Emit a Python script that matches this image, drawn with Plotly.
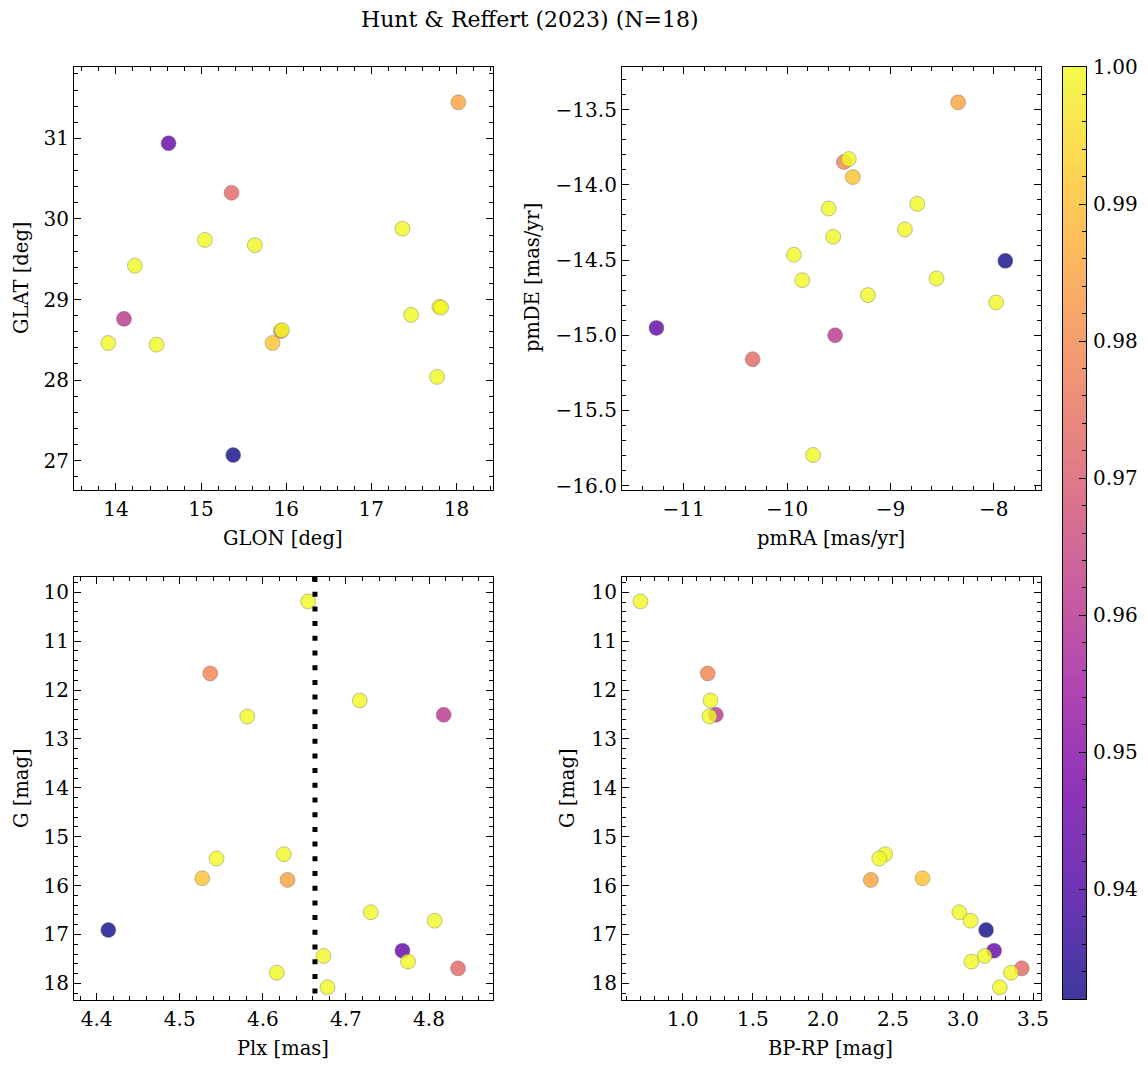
import numpy as np
import plotly.graph_objects as go
from plotly.colors import sequential, hex_to_rgb

# membership probability and astrometry/photometry for the 18 stars
prob = [0.932, 0.944, 0.961, 0.973, 0.979, 0.985, 0.991,
        1.0, 1.0, 1.0, 1.0, 1.0, 1.0, 1.0, 1.0, 1.0, 1.0, 1.0]
glon = [15.378, 14.618, 14.094, 15.358, 15.94, 18.023, 15.84,
        13.91, 14.223, 14.477, 15.045, 15.632, 15.95, 17.366, 17.468, 17.773, 17.80, 17.82]
glat = [27.07, 30.94, 28.76, 30.325, 28.61, 31.447, 28.46,
        28.46, 29.42, 28.44, 29.74, 29.675, 28.62, 29.88, 28.81, 28.04, 28.91, 28.90]
pmra = [-7.888, -11.264, -9.535, -10.333, -9.450, -8.345, -9.364,
        -9.403, -9.597, -8.740, -9.554, -8.860, -9.934, -9.853, -8.554, -9.217, -7.977, -9.748]
pmde = [-14.505, -14.951, -15.000, -15.159, -13.848, -13.451, -13.948,
        -13.828, -14.157, -14.126, -14.345, -14.296, -14.465, -14.634, -14.622, -14.733, -14.782, -15.796]
plx = [4.414, 4.768, 4.8176, 4.8349, 4.5367, 4.6297, 4.5271,
       4.6545, 4.7166, 4.5812, 4.6253, 4.5443, 4.7299, 4.8068, 4.673, 4.7747, 4.6168, 4.6778]
gmag = [16.908, 17.331, 12.505, 17.693, 11.659, 15.884, 15.850,
        10.184, 12.212, 12.539, 15.358, 15.447, 16.546, 16.717, 17.440, 17.556, 17.782, 18.082]
bprp = [3.165, 3.222, 1.235, 3.42, 1.177, 2.342, 2.711,
        0.697, 1.197, 1.189, 2.444, 2.402, 2.974, 3.054, 3.154, 3.060, 3.343, 3.263]

title = "Hunt & Reffert (2023) (N=18)"
FONT = "DejaVu Serif"
TICK_SIZE, LABEL_SIZE, TITLE_SIZE = 20, 19.5, 22
PMIN, PMAX = min(prob), max(prob)

# the page body has an 8px margin, so the figure is a bit smaller and shifted
OFF = 8
W, H = 1148 - 2 * OFF, 1067 - 2 * OFF

# plasma with alpha 0.8, so markers and colorbar both look like the matplotlib one
cols = sequential.Plasma
cscale = []
for i, c in enumerate(cols):
    r, g, b = hex_to_rgb(c)
    cscale.append([i / (len(cols) - 1), f"rgba({r},{g},{b},0.8)"])

def px2x(p):
    return (p - OFF) / W

def px2y(p):
    return 1 - (p - OFF) / H

fig = go.Figure()

panels = [
    (glon, glat, "x", "y"),
    (pmra, pmde, "x2", "y2"),
    (plx, gmag, "x3", "y3"),
    (bprp, gmag, "x4", "y4"),
]
for xs, ys, xa, ya in panels:
    fig.add_trace(go.Scatter(
        x=xs, y=ys, xaxis=xa, yaxis=ya, mode="markers",
        marker=dict(size=15, color=prob, colorscale=cscale, cmin=PMIN, cmax=PMAX,
                    line=dict(color="rgba(110,110,110,0.7)", width=0.6),
                    showscale=False),
        showlegend=False, hoverinfo="skip"))

# mean parallax line
mplx = float(np.mean(plx))
fig.add_trace(go.Scatter(x=[mplx, mplx], y=[9.686, 18.341], xaxis="x3", yaxis="y3",
                         mode="lines", line=dict(color="black", width=5, dash="5px,9.7px"),
                         showlegend=False, hoverinfo="skip"))

# colorbar drawn as a thin heatmap on its own axes (so it can have minor ticks)
cb_levels = np.linspace(PMIN, PMAX, 256)
fig.add_trace(go.Heatmap(z=cb_levels.reshape(-1, 1), x=[0.5], y=cb_levels,
                         xaxis="x5", yaxis="y5", colorscale=cscale, zmin=PMIN, zmax=PMAX,
                         showscale=False, hoverinfo="skip"))

def ax(domain, rng, dtick, mdtick, reverse=False, standoff=0):
    r = [rng[1], rng[0]] if reverse else rng
    return dict(domain=domain, range=r, dtick=dtick, showgrid=False, zeroline=False,
                showline=True, linecolor="black", linewidth=1.2, mirror="allticks",
                ticks="inside", ticklen=7, tickwidth=1.2, tickcolor="black",
                tickfont=dict(family=FONT, size=TICK_SIZE, color="black"),
                ticklabelstandoff=standoff,
                minor=dict(dtick=mdtick, ticks="inside", ticklen=4, tickwidth=1,
                           tickcolor="black", showgrid=False),
                automargin=False)

xl = [px2x(74), px2x(493)]
xr = [px2x(622), px2x(1041)]
yt = [px2y(490), px2y(67)]
yb = [px2y(1000), px2y(577)]

fig.update_layout(
    width=W, height=H, margin=dict(l=0, r=0, t=0, b=0),
    paper_bgcolor="white", plot_bgcolor="white",
    xaxis=dict(ax(xl, [13.507, 18.43], 1, 0.2, standoff=1), anchor="y"),
    yaxis=dict(ax(yt, [26.636, 31.886], 1, 0.2), anchor="x"),
    xaxis2=dict(ax(xr, [-11.597, -7.543], 1, 0.2, standoff=1), anchor="y2"),
    yaxis2=dict(ax(yt, [-16.029, -13.216], 0.5, 0.1), anchor="x2", tickformat=".1f"),
    xaxis3=dict(ax(xl, [4.3727, 4.877], 0.1, 0.02, standoff=1), anchor="y3", tickformat=".1f"),
    yaxis3=dict(ax(yb, [9.686, 18.341], 1, 0.2, reverse=True), anchor="x3"),
    xaxis4=dict(ax(xr, [0.565, 3.557], 0.5, 0.1, standoff=1), anchor="y4", tickformat=".1f"),
    yaxis4=dict(ax(yb, [9.686, 18.341], 1, 0.2, reverse=True), anchor="x4"),
    xaxis5=dict(domain=[px2x(1063), px2x(1086)], range=[0, 1], anchor="y5",
                showticklabels=False, ticks="", showgrid=False, zeroline=False,
                showline=True, linecolor="black", linewidth=1.2, mirror=True,
                automargin=False),
    yaxis5=dict(domain=[px2y(999), px2y(67)], range=[PMIN, PMAX], anchor="x5", side="right",
                showgrid=False, zeroline=False, showline=True, linecolor="black",
                linewidth=1.2, mirror=True,
                tick0=0.94, dtick=0.01, tickformat=".2f", ticks="inside", ticklen=7,
                tickwidth=1.2, tickcolor="black", ticklabelstandoff=2,
                tickfont=dict(family=FONT, size=TICK_SIZE, color="black"),
                minor=dict(dtick=0.002, ticks="inside", ticklen=4, tickwidth=1,
                           tickcolor="black", showgrid=False),
                automargin=False),
)

labels = [
    ("GLON [deg]", 283, 538, 0), ("pmRA [mas/yr]", 831, 538, 0),
    ("Plx [mas]", 283, 1048, 0), ("BP-RP [mag]", 831, 1048, 0),
    ("GLAT [deg]", 21, 278, -90), ("pmDE [mas/yr]", 532, 278, -90),
    ("G [mag]", 21, 788, -90), ("G [mag]", 567, 788, -90),
]
for txt, x, y, ang in labels:
    fig.add_annotation(text=txt, x=px2x(x), y=px2y(y), xref="paper", yref="paper",
                       showarrow=False, textangle=ang, xanchor="center", yanchor="middle",
                       font=dict(family=FONT, size=LABEL_SIZE, color="black"))

fig.add_annotation(text=title, x=px2x(530), y=px2y(20), xref="paper", yref="paper",
                   showarrow=False, xanchor="center", yanchor="middle",
                   font=dict(family=FONT, size=TITLE_SIZE, color="black"))

fig.write_html("out.html")
